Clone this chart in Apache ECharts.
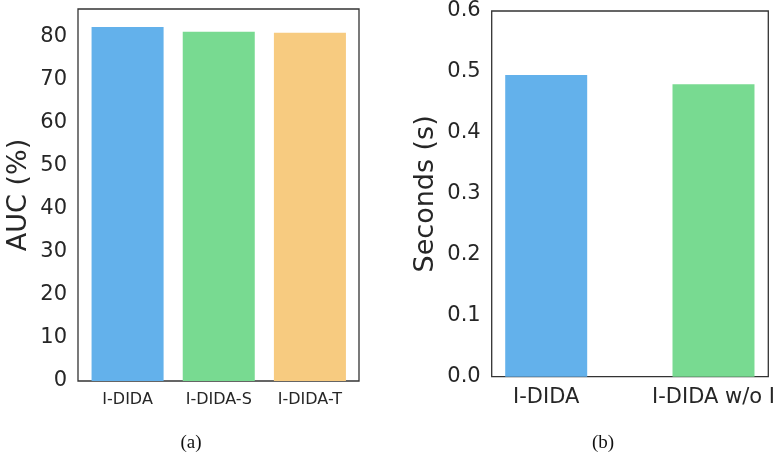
<!DOCTYPE html>
<html>
<head>
<meta charset="utf-8">
<script src="https://cdn.jsdelivr.net/npm/echarts@6/dist/echarts.min.js"></script>
<style>html,body{margin:0;padding:0;background:#fff}#c{width:780px;height:458px}</style>
</head>
<body>
<div id="c"></div>
<script>
const catsA = ['I-DIDA', 'I-DIDA-S', 'I-DIDA-T'];
const valsA = [82.3, 81.2, 81.0];
const colorsA = ['#63b1eb', '#78da91', '#f7cb80'];
const catsB = ['I-DIDA', 'I-DIDA w/o I'];
const valsB = [0.495, 0.480];
const colorsB = ['#63b1eb', '#78da91'];
const yNameA = 'AUC (%)';
const yNameB = 'Seconds (s)';
const captions = ['(a)', '(b)'];

const TXT = '#262626';
const FONT = 'DejaVu Sans';
const chart = echarts.init(document.getElementById('c'), null, {renderer: 'canvas'});
const hiddenX = (g) => ({type: 'category', gridIndex: g, data: ['x'], show: false});
const hiddenY = (g, max) => ({type: 'value', gridIndex: g, min: 0, max: max, show: false});

chart.setOption({
  animation: false,
  backgroundColor: '#fff',
  title: [
    {text: captions[0], left: 186, top: 429, textAlign: 'center',
     textStyle: {fontFamily: 'Liberation Serif', fontSize: 19, fontWeight: 'normal', color: '#111'}},
    {text: captions[1], left: 598, top: 429, textAlign: 'center',
     textStyle: {fontFamily: 'Liberation Serif', fontSize: 19, fontWeight: 'normal', color: '#111'}}
  ],
  grid: [
    {left: 78, top: 9, width: 281, height: 372, show: true, borderColor: '#333', borderWidth: 1.3, backgroundColor: 'transparent'},
    {left: 82, top: 9, width: 273.5, height: 372},
    {left: 491.7, top: 11, width: 276.6, height: 365.7, show: true, borderColor: '#333', borderWidth: 1.3, backgroundColor: 'transparent'},
    {left: 546.2, top: 11, width: 167.3, height: 365.7}
  ],
  xAxis: [
    hiddenX(0),
    {type: 'category', gridIndex: 1, data: catsA,
     axisLine: {show: false}, axisTick: {show: false},
     axisLabel: {margin: 11, interval: 0, fontFamily: FONT, fontSize: 16, color: TXT}},
    hiddenX(2),
    {type: 'category', gridIndex: 3, data: catsB, boundaryGap: false,
     axisLine: {show: false}, axisTick: {show: false},
     axisLabel: {margin: 10, interval: 0, fontFamily: FONT, fontSize: 21, color: TXT}}
  ],
  yAxis: [
    {type: 'value', gridIndex: 0, min: 0, max: 86.5, interval: 10,
     splitLine: {show: false}, axisLine: {show: false}, axisTick: {show: false},
     axisLabel: {margin: 11, fontFamily: FONT, fontSize: 21, color: TXT, showMaxLabel: false},
     name: yNameA, nameLocation: 'middle', nameGap: 46, nameRotate: 90,
     nameTextStyle: {fontFamily: FONT, fontSize: 27, color: TXT}},
    hiddenY(1, 86.5),
    {type: 'value', gridIndex: 2, min: 0, max: 0.6, interval: 0.1,
     splitLine: {show: false}, axisLine: {show: false}, axisTick: {show: false},
     axisLabel: {margin: 11, fontFamily: FONT, fontSize: 21, color: TXT,
                 formatter: v => v.toFixed(1)},
     name: yNameB, nameLocation: 'middle', nameGap: 52, nameRotate: 90,
     nameTextStyle: {fontFamily: FONT, fontSize: 27, color: TXT}},
    hiddenY(3, 0.6)
  ],
  series: [
    {type: 'bar', xAxisIndex: 1, yAxisIndex: 1, barCategoryGap: '21%',
     data: valsA.map((v, i) => ({value: v, itemStyle: {color: colorsA[i]}}))},
    {type: 'bar', xAxisIndex: 3, yAxisIndex: 3, barWidth: '49%', clip: false,
     data: valsB.map((v, i) => ({value: v, itemStyle: {color: colorsB[i]}}))}
  ]
});
</script>
</body>
</html>
